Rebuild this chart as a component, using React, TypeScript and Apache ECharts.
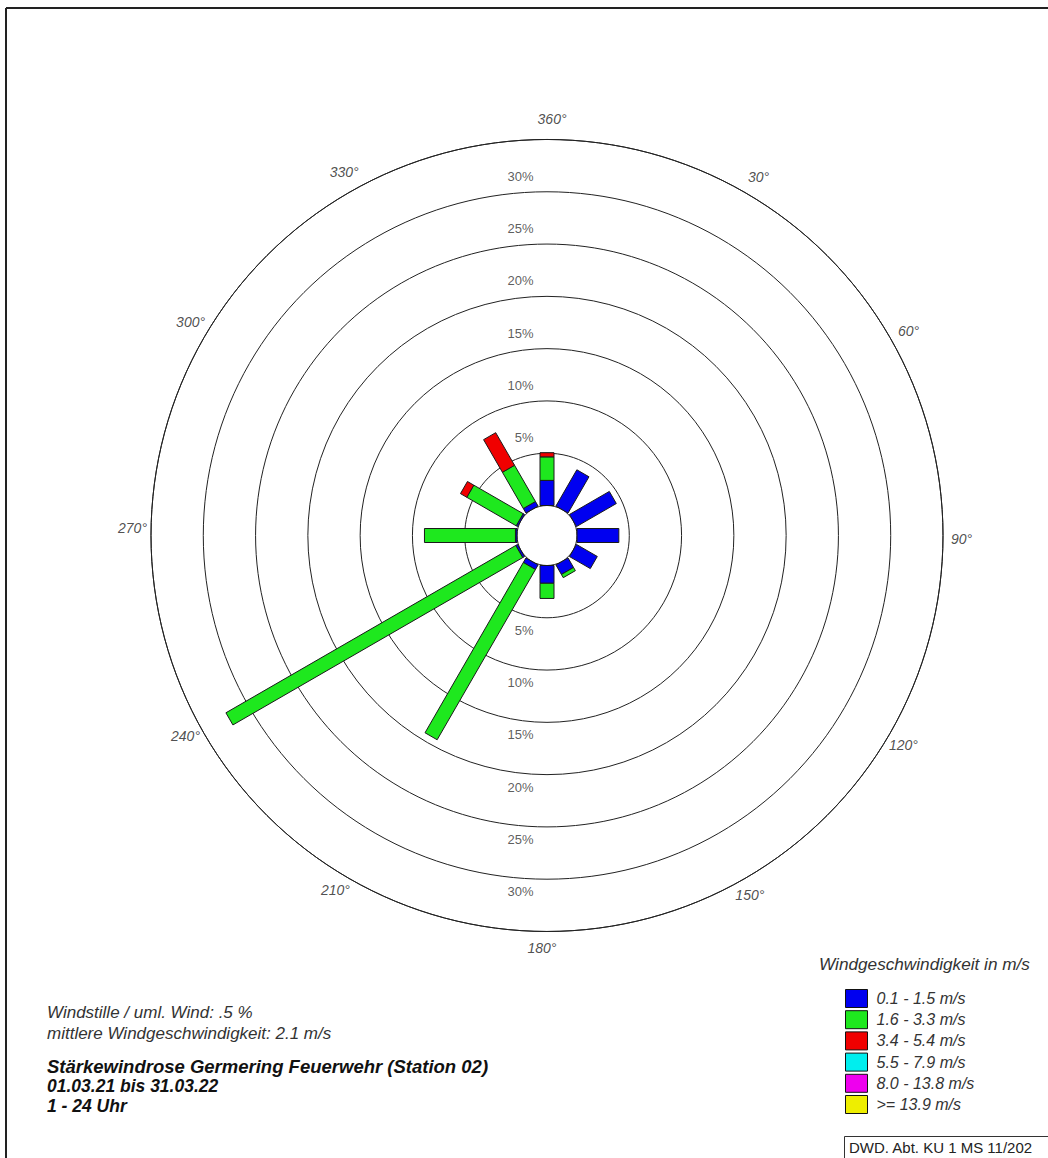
import React, { useEffect, useRef } from "react";
import * as echarts from "echarts";

// ---- data (percent frequency per direction and speed class) ----
const DIRECTIONS = [0, 30, 60, 90, 120, 150, 180, 210, 240, 270, 300, 330];
const SPEED_CLASSES = [
  "0.1 - 1.5 m/s",
  "1.6 - 3.3 m/s",
  "3.4 - 5.4 m/s",
  "5.5 - 7.9 m/s",
  "8.0 - 13.8 m/s",
  ">= 13.9 m/s",
];
const FREQ_0_1 = [2.4, 4.0, 4.4, 4.0, 2.3, 1.05, 1.7, 0.5, 0.2, 0.15, 0.15, 0.5];
const FREQ_1_6 = [2.25, 0, 0, 0, 0, 0.35, 1.45, 18.8, 32.0, 8.7, 5.45, 4.0];
const FREQ_3_4 = [0.4, 0, 0, 0, 0, 0, 0, 0, 0, 0, 0.7, 3.6];
const FREQ_5_5 = [0, 0, 0, 0, 0, 0, 0, 0, 0, 0, 0, 0];
const FREQ_8_0 = [0, 0, 0, 0, 0, 0, 0, 0, 0, 0, 0, 0];
const FREQ_13_9 = [0, 0, 0, 0, 0, 0, 0, 0, 0, 0, 0, 0];
const PCT_TICKS = [5, 10, 15, 20, 25, 30];
const ANGLE_TICKS = [0, 30, 60, 90, 120, 150, 180, 210, 240, 270, 300, 330];
const ANGLE_TICK_LABELS = ["360°", "30°", "60°", "90°", "120°", "150°", "180°", "210°", "240°", "270°", "300°", "330°"];

const CLASS_VALUES = [FREQ_0_1, FREQ_1_6, FREQ_3_4, FREQ_5_5, FREQ_8_0, FREQ_13_9];
const CLASS_COLORS = ["#0000f0", "#1ee81e", "#f00000", "#00eeee", "#ee00ee", "#eeee00"];

const FONT = "'Liberation Sans', Arial, sans-serif";
const RADIUS_MAX = 35;

export default function App() {
  const ref = useRef<HTMLDivElement>(null);
  useEffect(() => {
    document.body.style.margin = "0";
    const chart = echarts.init(ref.current!, null, { renderer: "svg" });

    const cum = DIRECTIONS.map(() => 0);
    const barSeries = CLASS_VALUES.map((vals, ci) => {
      const data = DIRECTIONS.map((d, i) => {
        const s = cum[i];
        const e = s + vals[i];
        cum[i] = e;
        return [d, s, e];
      });
      return {
        type: "custom",
        name: SPEED_CLASSES[ci],
        coordinateSystem: "polar",
        itemStyle: { color: CLASS_COLORS[ci] },
        encode: { angle: 0, radius: 2 },
        data,
        z: 5,
        renderItem: (params: any, api: any) => {
          const ang = api.value(0);
          const s = api.value(1);
          const e = api.value(2);
          if (!(e - s > 0)) return null;
          const p0 = api.coord([s, ang]);
          const p1 = api.coord([e, ang]);
          const dx = p1[0] - p0[0];
          const dy = p1[1] - p0[1];
          const len = Math.hypot(dx, dy) || 1;
          const nx = -dy / len;
          const ny = dx / len;
          const hw = 7;
          return {
            type: "polygon",
            shape: {
              points: [
                [p0[0] + nx * hw, p0[1] + ny * hw],
                [p1[0] + nx * hw, p1[1] + ny * hw],
                [p1[0] - nx * hw, p1[1] - ny * hw],
                [p0[0] - nx * hw, p0[1] - ny * hw],
              ],
            },
            style: { fill: api.visual("color"), stroke: "#1a1a1a", lineWidth: 1 },
          };
        },
      };
    });

    const pctLabel = (top: boolean) => ({
      type: "scatter",
      coordinateSystem: "polar",
      symbolSize: 1,
      silent: true,
      itemStyle: { color: "rgba(0,0,0,0)" },
      z: 10,
      data: PCT_TICKS.map((v) => [v, top ? 0 : 180]),
      label: {
        show: true,
        position: top ? [-13, -15] : [-13, 13],
        align: "right",
        verticalAlign: "middle",
        formatter: (p: any) => p.value[0] + "%",
        fontFamily: FONT,
        fontSize: 13,
        color: "#333",
      },
    });

    const angleLabels = {
      type: "scatter",
      coordinateSystem: "polar",
      symbolSize: 1,
      silent: true,
      clip: false,
      itemStyle: { color: "rgba(0,0,0,0)" },
      z: 10,
      data: ANGLE_TICKS.map((a, i) => {
        const rad = ((a + 0.7) * Math.PI) / 180;
        const r = 396;
        const R = 414.5;
        return {
          value: [RADIUS_MAX, a],
          name: ANGLE_TICK_LABELS[i],
          label: {
            offset: [
              R * Math.sin(rad) - r * Math.sin((a * Math.PI) / 180),
              -R * Math.cos(rad) + r * Math.cos((a * Math.PI) / 180) - 2,
            ],
          },
        };
      }),
      label: {
        show: true,
        position: "inside",
        align: "center",
        verticalAlign: "middle",
        formatter: (p: any) => p.name,
        fontFamily: FONT,
        fontStyle: "italic",
        fontSize: 14,
        color: "#222",
      },
    };

    const option: any = {
      animation: false,
      backgroundColor: "#ffffff",
      polar: { center: [547, 535.5], radius: [30, 396] },
      angleAxis: {
        type: "value",
        min: 0,
        max: 360,
        interval: 30,
        startAngle: 90,
        clockwise: true,
        axisLine: { show: true, lineStyle: { color: "#222", width: 1 } },
        axisTick: { show: false },
        splitLine: { show: false },
        axisLabel: { show: false },
      },
      radiusAxis: {
        type: "value",
        min: 0,
        max: RADIUS_MAX,
        interval: 5,
        axisLine: { show: false },
        axisTick: { show: false },
        axisLabel: { show: false },
        splitLine: {
          show: true,
          lineStyle: {
            color: ["rgba(0,0,0,0)", "#222", "#222", "#222", "#222", "#222", "#222", "#222"],
            width: 1,
          },
        },
      },
      legend: {
        data: SPEED_CLASSES,
        orient: "vertical",
        left: 845,
        top: 989,
        padding: 0,
        icon: "rect",
        itemWidth: 22,
        itemHeight: 18,
        itemGap: 2.2,
        selectedMode: false,
        itemStyle: { borderColor: "#111", borderWidth: 1 },
        textStyle: {
          fontFamily: FONT,
          fontStyle: "italic",
          fontSize: 16,
          color: "#333",
          padding: [0, 0, 0, 4],
        },
      },
      graphic: [
        { type: "line", shape: { x1: 6, y1: 8, x2: 1048, y2: 8 }, style: { stroke: "#222", lineWidth: 2 } },
        { type: "line", shape: { x1: 6, y1: 8, x2: 6, y2: 1158 }, style: { stroke: "#222", lineWidth: 2 } },
        {
          type: "text",
          x: 819,
          y: 964,
          style: { text: "Windgeschwindigkeit in m/s", font: `italic 17.2px ${FONT}`, fill: "#333", verticalAlign: "middle" },
        },
        {
          type: "rect",
          shape: { x: 844.5, y: 1136.5, width: 260, height: 40 },
          style: { fill: "#fff", stroke: "#333", lineWidth: 1 },
        },
        {
          type: "text",
          x: 849,
          y: 1147.5,
          style: { text: "DWD. Abt. KU 1 MS 11/202", font: `15px ${FONT}`, fill: "#222", verticalAlign: "middle" },
        },
        {
          type: "text",
          x: 47,
          y: 1012,
          style: { text: "Windstille / uml. Wind: .5 %", font: `italic 17px ${FONT}`, fill: "#333", verticalAlign: "middle" },
        },
        {
          type: "text",
          x: 47,
          y: 1033,
          style: { text: "mittlere Windgeschwindigkeit: 2.1 m/s", font: `italic 17px ${FONT}`, fill: "#333", verticalAlign: "middle" },
        },
        {
          type: "text",
          x: 47,
          y: 1066,
          style: { text: "Stärkewindrose Germering Feuerwehr (Station 02)", font: `italic bold 18.5px ${FONT}`, fill: "#111", verticalAlign: "middle" },
        },
        {
          type: "text",
          x: 47,
          y: 1086.3,
          style: { text: "01.03.21 bis 31.03.22", font: `italic bold 17.5px ${FONT}`, fill: "#111", verticalAlign: "middle" },
        },
        {
          type: "text",
          x: 47,
          y: 1105.9,
          style: { text: "1 - 24 Uhr", font: `italic bold 17.5px ${FONT}`, fill: "#111", verticalAlign: "middle" },
        },
      ],
      series: [...barSeries, pctLabel(true), pctLabel(false), angleLabels],
    };
    chart.setOption(option);
    return () => chart.dispose();
  }, []);
  return <div ref={ref} style={{ position: "fixed", left: 0, top: 0, width: 1048, height: 1158 }} />;
}
